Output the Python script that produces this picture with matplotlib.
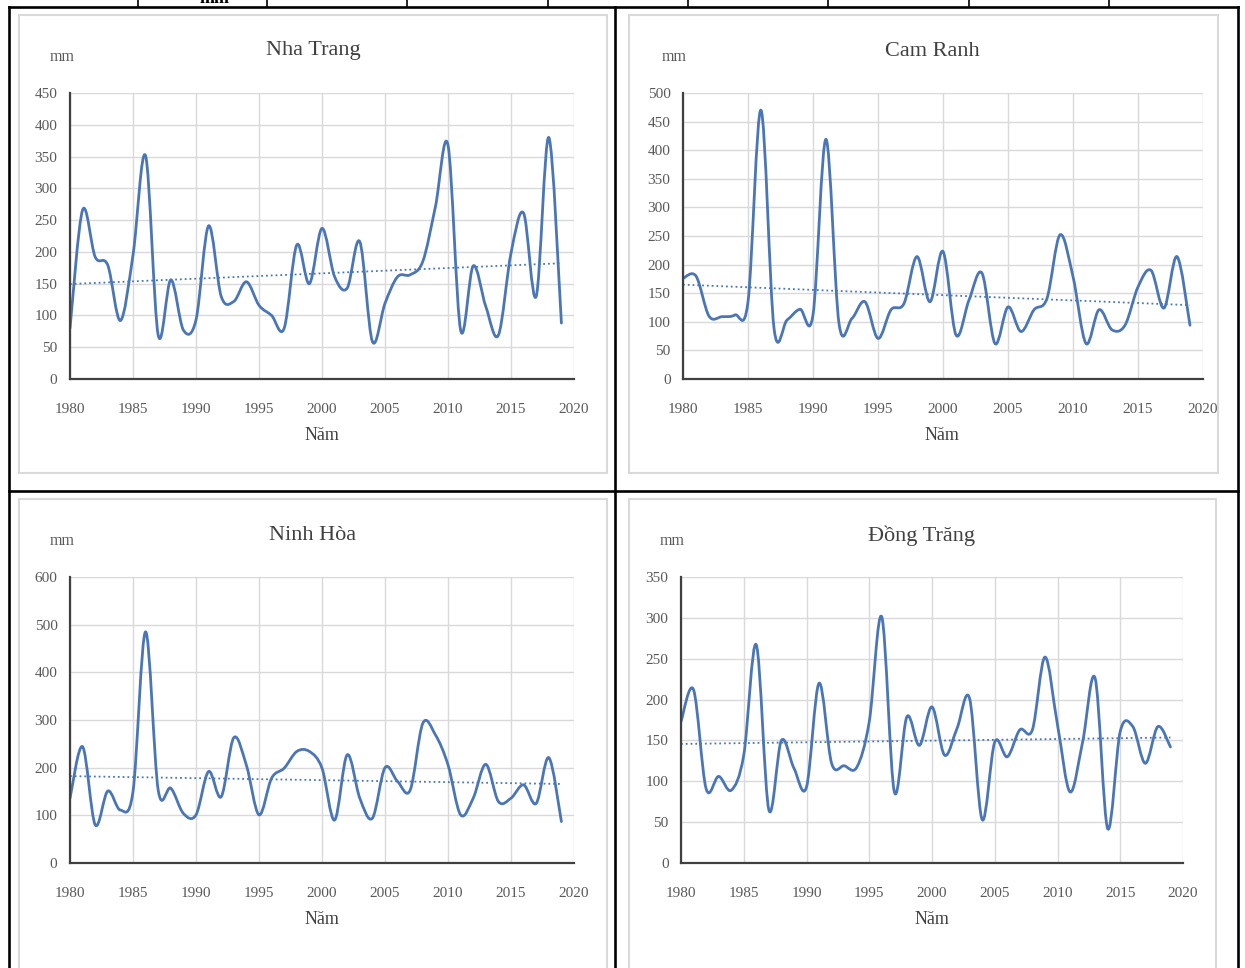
import numpy as np
import matplotlib
matplotlib.use('Agg')
import matplotlib.pyplot as plt
from matplotlib.path import Path
from matplotlib.patches import PathPatch, Rectangle
from matplotlib.lines import Line2D

# data (mm per year)
years = list(range(1980, 2020))

nha_trang = [80, 266, 192, 179, 92, 195, 351, 69, 156, 77,
             93, 241, 130, 122, 153, 116, 100, 80, 211, 150,
             237, 161, 143, 216, 59, 119, 161, 164, 185, 271,
             368, 77, 178, 114, 69, 198, 261, 130, 380, 88]

cam_ranh = [176, 180, 110, 109, 112, 135, 470, 89, 103, 122,
            112, 419, 97, 106, 135, 71, 121, 132, 214, 135,
            223, 77, 138, 185, 62, 126, 83, 121, 141, 252,
            179, 62, 121, 86, 94, 161, 190, 124, 214, 94]

ninh_hoa = [136, 244, 80, 151, 111, 150, 485, 153, 157, 104,
            101, 192, 139, 263, 205, 101, 178, 199, 234, 234,
            199, 90, 227, 136, 94, 200, 171, 153, 293, 269,
            206, 101, 136, 207, 129, 136, 164, 125, 221, 87]

dong_trang = [173, 212, 91, 106, 89, 132, 267, 65, 150, 116,
              93, 220, 122, 119, 117, 173, 301, 87, 179, 144,
              191, 132, 165, 201, 53, 148, 130, 163, 163, 252,
              169, 87, 148, 226, 42, 161, 167, 122, 167, 142]

titles = ['Nha Trang', 'Cam Ranh', 'Ninh Hòa', 'Đồng Trăng']
series = [nha_trang, cam_ranh, ninh_hoa, dong_trang]
ymax = [450, 500, 600, 350]
ystep = [50, 50, 100, 50]

W, H = 1245, 968
blue = '#4a76b8'
serif = ['Liberation Serif', 'DejaVu Serif']

fig = plt.figure(figsize=(W / 100, H / 100), dpi=100)


def fx(x):
    return x / W


def fy(y):
    return 1 - y / H


def smooth_path(x, y):
    # Catmull-Rom -> cubic bezier, like a spreadsheet "smoothed line"
    p = np.column_stack([x, y]).astype(float)
    pts = np.vstack([p[0], p, p[-1]])
    verts = [p[0]]
    codes = [Path.MOVETO]
    for i in range(1, len(pts) - 2):
        c1 = pts[i] + (pts[i + 1] - pts[i - 1]) / 6
        c2 = pts[i + 1] - (pts[i + 2] - pts[i]) / 6
        verts += [c1, c2, pts[i + 1]]
        codes += [Path.CURVE4] * 3
    return Path(verts, codes)


# panel layout in pixels: chart box, plot area, text spots
boxes = [(19, 15, 607, 473), (629, 15, 1218, 473),
         (19, 499, 607, 975), (629, 499, 1216, 975)]
plots = [(70, 93, 574, 379), (683, 93, 1203, 379),
         (70, 577, 574, 863), (681, 577, 1183, 863)]
title_xy = [(313, 51), (932, 51), (313, 536), (922, 536)]
mm_xy = [(62, 57), (674, 57), (62, 541), (672, 541)]
nam_xy = [(322, 435), (942, 435), (322, 919), (932, 919)]

for k in range(4):
    bx0, by0, bx1, by1 = boxes[k]
    fig.patches.append(Rectangle((fx(bx0), fy(by1)), fx(bx1 - bx0), (by1 - by0) / H,
                                 transform=fig.transFigure, fill=False,
                                 edgecolor='#d9d9d9', lw=1.5))
    x0, y0, x1, y1 = plots[k]
    ax = fig.add_axes([fx(x0), fy(y1), fx(x1 - x0), (y1 - y0) / H])
    vals = series[k]
    ax.add_patch(PathPatch(smooth_path(years, vals), fill=False, edgecolor=blue,
                           lw=2.0, capstyle='round', joinstyle='round'))
    a, b = np.polyfit(years, vals, 1)
    ax.plot([years[0], years[-1]], [a * years[0] + b, a * years[-1] + b],
            ':', color=blue, lw=1.3)
    ax.set_xlim(1980, 2020)
    ax.set_ylim(0, ymax[k])
    ax.set_xticks(range(1980, 2021, 5))
    ax.set_yticks(range(0, ymax[k] + 1, ystep[k]))
    ax.grid(True, color='#d9d9d9', lw=1)
    ax.set_axisbelow(True)
    for s in ['top', 'right']:
        ax.spines[s].set_visible(False)
    for s in ['left', 'bottom']:
        ax.spines[s].set_color('#404040')
        ax.spines[s].set_linewidth(1.6)
    ax.tick_params(length=0, labelsize=11, labelcolor='#595959')
    ax.tick_params(axis='x', pad=17)
    ax.tick_params(axis='y', pad=9)
    for lab in ax.get_xticklabels() + ax.get_yticklabels():
        lab.set_family(serif)
    ax.set_facecolor('none')
    tx, ty = title_xy[k]
    fig.text(fx(tx), fy(ty), titles[k], ha='center', va='center',
             fontsize=16, family=serif, color='#404040')
    mx, my = mm_xy[k]
    fig.text(fx(mx), fy(my), 'mm', ha='center', va='center',
             fontsize=11.5, family=serif, color='#595959')
    nx, ny = nam_xy[k]
    fig.text(fx(nx), fy(ny), 'Năm', ha='center', va='center',
             fontsize=13, family=serif, color='#404040')

# table borders around the four charts
lw = 1.9
border = dict(color='black', lw=lw, transform=fig.transFigure, solid_capstyle='projecting')
for (xa, ya, xb, yb) in [(9, 7, 1238, 7), (9, 7, 9, 968), (1238, 7, 1238, 968),
                         (615, 7, 615, 968), (9, 491, 1238, 491)]:
    fig.add_artist(Line2D([fx(xa), fx(xb)], [fy(ya), fy(yb)], **border))

# cut-off row of the table above (its text is cut by the page edge)
for xc in [138, 267, 407, 548, 688, 828, 969, 1109]:
    fig.add_artist(Line2D([fx(xc), fx(xc)], [fy(0), fy(7)], color='black', lw=1.2,
                          transform=fig.transFigure))
fig.text(fx(215), fy(3), 'mm', ha='center', va='baseline', fontsize=13,
         fontweight='bold', family=serif)

fig.savefig('out.png', dpi=100)
